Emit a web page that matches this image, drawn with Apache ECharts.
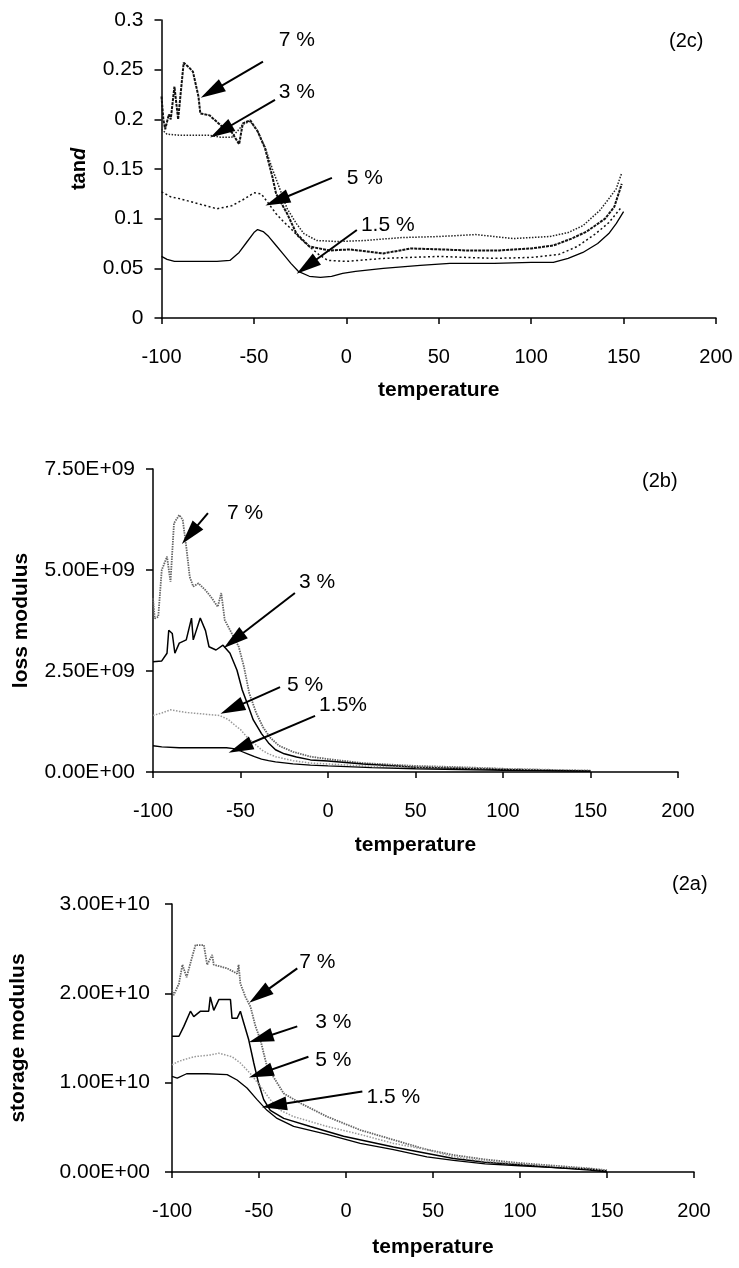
<!DOCTYPE html>
<html>
<head>
<meta charset="utf-8">
<script src="https://cdn.jsdelivr.net/npm/echarts@6/dist/echarts.min.js"></script>
<style>
html,body{margin:0;padding:0;background:#fff;}
#chart{width:739px;height:1268px;}
</style>
</head>
<body>
<div id="chart"></div>
<script>
// ---------- DATA ----------
const xTicks = [-100, -50, 0, 50, 100, 150, 200];
const seriesNames = ['7 %', '3 %', '5 %', '1.5 %'];

// (2c) tan d
const tanT7 = [-100,-99,-98,-96,-95,-93,-91,-88,-85,-83,-80,-79,-74,-68,-62,-58,-56,-52,-48,-44,-40,-38,-32,-27,-20,-9,2,20,35,52,65,83,100,112,122,130,140,145,149];
const tanV7 = [0.223,0.2,0.19,0.205,0.2,0.233,0.2,0.257,0.252,0.248,0.223,0.206,0.204,0.194,0.187,0.175,0.196,0.199,0.188,0.171,0.142,0.125,0.105,0.085,0.072,0.068,0.069,0.065,0.07,0.069,0.068,0.068,0.07,0.073,0.08,0.087,0.1,0.112,0.135];
const tanT3 = [-100,-97,-90,-80,-74,-68,-62,-58,-56,-52,-48,-44,-40,-36,-32,-27,-23,-16,-5,10,30,50,70,90,110,120,128,137,142,146,149];
const tanV3 = [0.19,0.185,0.184,0.184,0.184,0.182,0.182,0.19,0.195,0.198,0.188,0.172,0.15,0.13,0.11,0.095,0.085,0.078,0.077,0.078,0.081,0.082,0.084,0.08,0.082,0.086,0.093,0.108,0.12,0.13,0.146];
const tanT5 = [-100,-95,-90,-80,-70,-62,-55,-50,-46,-42,-38,-34,-30,-25,-20,-15,-10,0,20,50,80,100,115,125,135,142,149];
const tanV5 = [0.127,0.122,0.12,0.115,0.11,0.113,0.12,0.126,0.125,0.115,0.105,0.097,0.09,0.08,0.072,0.064,0.058,0.057,0.06,0.062,0.06,0.061,0.064,0.072,0.085,0.096,0.112];
const tanT15 = [-100,-97,-93,-80,-70,-63,-58,-54,-50,-48,-45,-42,-38,-34,-30,-26,-20,-14,-8,-2,5,20,40,56,80,100,112,120,128,136,142,146,150];
const tanV15 = [0.062,0.059,0.057,0.057,0.057,0.058,0.066,0.076,0.086,0.089,0.087,0.082,0.073,0.064,0.055,0.047,0.042,0.041,0.042,0.045,0.047,0.05,0.053,0.055,0.055,0.056,0.056,0.06,0.066,0.075,0.085,0.095,0.107];

// (2b) loss modulus
const lossT7 = [-100,-99,-97,-95,-92,-90,-88,-85,-83,-81,-79,-77,-74,-70,-67,-63,-61,-59,-54,-51,-48,-45,-41,-37,-33,-28,-20,-10,0,20,50,75,100,125,150];
const lossV7 = [4.3e9,3.8e9,3.84e9,5.0e9,5.33e9,4.71e9,6.16e9,6.36e9,6.24e9,5.58e9,4.83e9,4.59e9,4.67e9,4.5e9,4.34e9,4.09e9,4.43e9,3.76e9,3.35e9,3.1e9,2.6e9,1.95e9,1.46e9,1.1e9,0.85e9,0.65e9,0.5e9,0.38e9,0.32e9,0.22e9,0.15e9,0.12e9,0.08e9,0.05e9,0.03e9];
const lossT3 = [-100,-95,-92,-91,-89,-87.5,-85,-81,-78,-77,-73,-70,-68,-64,-60,-56,-52,-49,-45.5,-42.7,-38,-34,-30,-25,-18,-10,0,20,50,100,150];
const lossV3 = [2.73e9,2.75e9,2.94e9,3.51e9,3.43e9,2.94e9,3.19e9,3.27e9,3.81e9,3.27e9,3.81e9,3.5e9,3.1e9,3.02e9,3.14e9,2.94e9,2.52e9,2.03e9,1.62e9,1.29e9,0.95e9,0.72e9,0.55e9,0.45e9,0.37e9,0.3e9,0.27e9,0.2e9,0.12e9,0.06e9,0.02e9];
const lossT5 = [-100,-95,-90,-85,-80,-70,-62,-57,-53,-50,-46,-42,-38,-34,-30,-25,-20,-10,0,20,50,100,150];
const lossV5 = [1.4e9,1.46e9,1.54e9,1.5e9,1.47e9,1.43e9,1.4e9,1.3e9,1.15e9,1.05e9,0.85e9,0.7e9,0.55e9,0.45e9,0.38e9,0.33e9,0.28e9,0.22e9,0.2e9,0.15e9,0.12e9,0.08e9,0.04e9];
const lossT15 = [-100,-95,-85,-75,-65,-58,-54,-50,-46,-42,-38,-34,-30,-20,-10,0,25,50,100,150];
const lossV15 = [0.65e9,0.62e9,0.6e9,0.6e9,0.6e9,0.6e9,0.58e9,0.52e9,0.45e9,0.38e9,0.32e9,0.28e9,0.25e9,0.2e9,0.17e9,0.15e9,0.11e9,0.08e9,0.04e9,0.02e9];

// (2a) storage modulus
const storT7 = [-100,-99,-96,-94,-91.6,-88.4,-86.5,-81.7,-79.8,-76.9,-76,-68.3,-62.6,-61.7,-60.7,-57.8,-54.9,-52,-49.2,-45.4,-40.6,-35.8,-26.2,-10.9,8.2,27.3,46.5,61.8,80,100,120,140,150];
const storV7 = [2.04e10,1.98e10,2.11e10,2.32e10,2.18e10,2.41e10,2.54e10,2.54e10,2.32e10,2.43e10,2.32e10,2.28e10,2.22e10,2.32e10,2.11e10,1.96e10,1.85e10,1.63e10,1.48e10,1.18e10,1.03e10,0.88e10,0.77e10,0.62e10,0.47e10,0.36e10,0.25e10,0.19e10,0.14e10,0.1e10,0.07e10,0.04e10,0.02e10];
const storT3 = [-100,-96,-93.2,-89.4,-87.5,-83.6,-78.9,-78,-76,-73.1,-66.4,-65.5,-62.6,-60.7,-58.8,-55.9,-53,-50.2,-47.3,-43.5,-35.8,-20.5,-1.4,27.3,61.8,80,100,120,140,150];
const storV3 = [1.52e10,1.52e10,1.63e10,1.8e10,1.74e10,1.8e10,1.8e10,1.96e10,1.81e10,1.93e10,1.93e10,1.72e10,1.72e10,1.8e10,1.67e10,1.48e10,1.22e10,0.99e10,0.81e10,0.69e10,0.6e10,0.51e10,0.4e10,0.28e10,0.15e10,0.11e10,0.08e10,0.05e10,0.03e10,0.01e10];
const storT5 = [-100,-96,-87.5,-78,-73.1,-65.5,-60.7,-54.9,-49.2,-43.5,-37.7,-30.1,-10.9,8.2,27.3,46.5,61.8,80,100,120,140,150];
const storV5 = [1.2e10,1.24e10,1.29e10,1.31e10,1.33e10,1.29e10,1.22e10,1.1e10,0.96e10,0.81e10,0.69e10,0.62e10,0.51e10,0.42e10,0.32e10,0.25e10,0.17e10,0.12e10,0.09e10,0.06e10,0.03e10,0.02e10];
const storT15 = [-100,-97,-91.6,-80,-68.3,-62.6,-56.9,-51.1,-45.4,-39.6,-30.1,-10.9,8.2,27.3,46.5,61.8,80,100,120,140,150];
const storV15 = [1.07e10,1.05e10,1.1e10,1.1e10,1.09e10,1.03e10,0.94e10,0.81e10,0.69e10,0.6e10,0.51e10,0.42e10,0.32e10,0.25e10,0.17e10,0.13e10,0.09e10,0.07e10,0.05e10,0.02e10,0.0];

// annotations (data coordinates): [label, textT, textV, tailT, tailV, headT, headV]
const tanNotes = [
  ['7 %', -26.8, 0.28, -45.1, 0.258, -72.9, 0.228],
  ['3 %', -26.8, 0.2276, -38.6, 0.2195, -67.8, 0.188],
  ['5 %', 10, 0.141, -7.8, 0.141, -37.5, 0.118],
  ['1.5 %', 22.4, 0.0937, 5.7, 0.0886, -21.4, 0.0519]
];
const lossNotes = [
  ['7 %', -47.4, 6.41e9, -68.6, 6.41e9, -78.9, 5.88e9],
  ['3 %', -6.3, 4.70e9, -18.9, 4.43e9, -53.9, 3.26e9],
  ['5 %', -13.1, 2.15e9, -27.4, 2.1e9, -54.9, 1.57e9],
  ['1.5%', 8.6, 1.66e9, -7.4, 1.39e9, -50.2, 0.6e9]
];
const storNotes = [
  ['7 %', -16.5, 2.35e10, -28, 2.28e10, -49.8, 1.975e10],
  ['3 %', -7.3, 1.68e10, -28, 1.63e10, -49, 1.495e10],
  ['5 %', -7.3, 1.25e10, -21.6, 1.29e10, -49, 1.104e10],
  ['1.5 %', 27.2, 0.84e10, 9.4, 0.9e10, -41.2, 0.747e10]
];

// ---------- BUILD ----------
const FONT = "'Liberation Sans', Arial, sans-serif";
const zip = (a, b) => a.map((t, i) => [t, b[i]]);
function sci(v) {
  if (v === 0) return '0.00E+00';
  const e = Math.floor(Math.log10(Math.abs(v)) + 1e-9);
  const m = v / Math.pow(10, e);
  return m.toFixed(2) + 'E+' + (e < 10 ? '0' : '') + e;
}

const grids = [
  {left: 161.5, width: 554.5, top: 20, height: 298},
  {left: 153, width: 525, top: 469, height: 303},
  {left: 171.5, width: 522.5, top: 904, height: 268}
];
const xNameGaps = [62, 63, 65];
const xAxes = grids.map((g, i) => ({
  type: 'value', gridIndex: i, min: xTicks[0], max: xTicks[xTicks.length - 1], interval: 50,
  name: 'temperature', nameLocation: 'middle', nameGap: xNameGaps[i],
  nameTextStyle: {fontFamily: FONT, fontWeight: 'bold', fontSize: 21, color: '#000'},
  axisLine: {onZero: false, lineStyle: {color: '#000', width: 1.5}},
  axisTick: {length: 6, lineStyle: {color: '#000', width: 1.5}},
  axisLabel: {fontFamily: FONT, fontSize: 20, color: '#000', margin: 29},
  splitLine: {show: false}
}));
const yAxisBase = {
  type: 'value', nameLocation: 'middle',
  axisLine: {show: true, onZero: false, lineStyle: {color: '#000', width: 1.5}},
  axisTick: {show: true, length: 7, lineStyle: {color: '#000', width: 1.5}},
  splitLine: {show: false}
};
const yAxes = [
  Object.assign({}, yAxisBase, {gridIndex: 0, min: 0, max: 0.3, interval: 0.05,
    name: 'tan{i|d}', nameGap: 72,
    nameTextStyle: {fontFamily: FONT, fontWeight: 'bold', fontSize: 20, color: '#000',
      rich: {i: {fontFamily: FONT, fontWeight: 'bold', fontStyle: 'italic', fontSize: 20, color: '#000'}}},
    axisLabel: {fontFamily: FONT, fontSize: 21, color: '#000', margin: 18}}),
  Object.assign({}, yAxisBase, {gridIndex: 1, min: 0, max: 7.5e9, interval: 2.5e9,
    name: 'loss modulus', nameGap: 121,
    nameTextStyle: {fontFamily: FONT, fontWeight: 'bold', fontSize: 21, color: '#000'},
    axisLabel: {fontFamily: FONT, fontSize: 21, color: '#000', margin: 18, formatter: sci}}),
  Object.assign({}, yAxisBase, {gridIndex: 2, min: 0, max: 3e10, interval: 1e10,
    name: 'storage modulus', nameGap: 143,
    nameTextStyle: {fontFamily: FONT, fontWeight: 'bold', fontSize: 21, color: '#000'},
    axisLabel: {fontFamily: FONT, fontSize: 21, color: '#000', margin: 22, formatter: sci}})
];

// line styles per panel, order 7%,3%,5%,1.5%
const styles = [
  [{color: '#111', width: 2, type: [3, 1]}, {color: '#222', width: 1.5, type: [1.5, 1.5]}, {color: '#111', width: 1.5, type: [2, 2.5]}, {color: '#000', width: 1.3, type: 'solid'}],
  [{color: '#666', width: 1.8, type: [1.5, 1]}, {color: '#000', width: 1.5, type: 'solid'}, {color: '#999', width: 1.5, type: [1.5, 1.5]}, {color: '#000', width: 1.3, type: 'solid'}],
  [{color: '#666', width: 1.8, type: [1.5, 1]}, {color: '#000', width: 1.5, type: 'solid'}, {color: '#999', width: 1.5, type: [1.5, 1.5]}, {color: '#000', width: 1.3, type: 'solid'}]
];
const panels = [
  {T: [tanT7, tanT3, tanT5, tanT15], V: [tanV7, tanV3, tanV5, tanV15], notes: tanNotes},
  {T: [lossT7, lossT3, lossT5, lossT15], V: [lossV7, lossV3, lossV5, lossV15], notes: lossNotes},
  {T: [storT7, storT3, storT5, storT15], V: [storV7, storV3, storV5, storV15], notes: storNotes}
];

const series = [];
panels.forEach((p, pi) => {
  p.T.forEach((tArr, si) => {
    const note = p.notes[si];
    series.push({
      type: 'line', name: seriesNames[si], xAxisIndex: pi, yAxisIndex: pi,
      data: zip(tArr, p.V[si]), showSymbol: false, symbol: 'none', animation: false,
      lineStyle: styles[pi][si], z: 2 + si,
      markLine: {
        silent: true, animation: false, symbol: ['none', 'triangle'],
        lineStyle: {color: '#000', width: 2, type: 'solid'},
        label: {show: false},
        data: [[
          {coord: [note[3], note[4]], symbol: 'none'},
          {coord: [note[5], note[6]], symbol: 'triangle', symbolSize: [14, 25], itemStyle: {color: '#000'}}
        ]]
      },
      markPoint: {
        silent: true, animation: false, symbol: 'circle', symbolSize: 0.1,
        itemStyle: {color: 'rgba(0,0,0,0)'},
        label: {show: true, position: 'inside', formatter: '{b}', fontFamily: FONT, fontSize: 21, color: '#000'},
        data: [{name: note[0], coord: [note[1], note[2]]}]
      }
    });
  });
});

const chart = echarts.init(document.getElementById('chart'), null, {renderer: 'canvas'});
chart.setOption({
  backgroundColor: '#fff',
  animation: false,
  grid: grids,
  xAxis: xAxes,
  yAxis: yAxes,
  series: series,
  graphic: [
    {type: 'text', left: 669, top: 31, style: {text: '(2c)', fontFamily: FONT, fontSize: 20, fill: '#000'}},
    {type: 'text', left: 642, top: 471, style: {text: '(2b)', fontFamily: FONT, fontSize: 20, fill: '#000'}},
    {type: 'text', left: 672, top: 874, style: {text: '(2a)', fontFamily: FONT, fontSize: 20, fill: '#000'}}
  ]
});
</script>
</body>
</html>
